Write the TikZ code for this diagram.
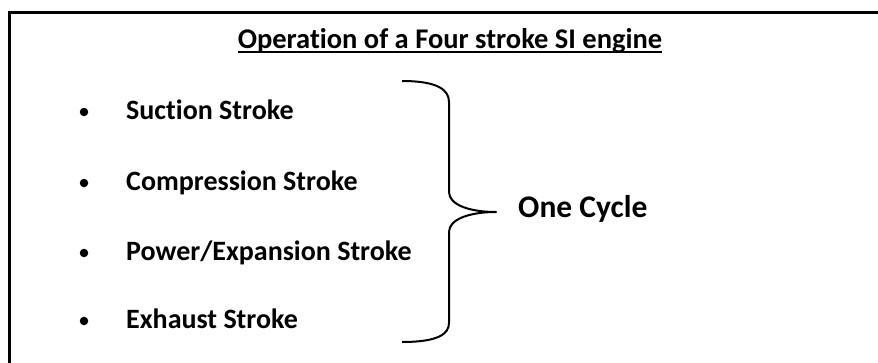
\documentclass[tikz,border=0pt]{standalone}
\usepackage{fontspec}
\setmainfont{Carlito}[Ligatures=NoCommon]
\usetikzlibrary{positioning}
\tikzset{
  heading/.style={
    font=\fontsize{28.5}{32}\selectfont\bfseries,
    anchor=base,
    inner sep=0pt,
  },
  stroke/.style={
    font=\fontsize{28}{32}\selectfont\bfseries,
    anchor=base west,
    inner sep=0pt,
  },
  cyc/.style={stroke, font=\fontsize{31.5}{36}\selectfont\bfseries},
  dot/.style={circle, fill, inner sep=0pt, minimum size=8.5pt},
  brace/.style={line width=2pt, line join=round},
  frame/.style={line width=3pt},
}

\begin{document}
\begin{tikzpicture}[x=1pt, y=-1pt]
  \useasboundingbox (0,0) rectangle (878,362);
  \draw[frame] (9,380) -- (9,12) -- (890,12);

  \node[heading] (title) at (450,48) {Operation of a Four stroke SI engine};
  \draw[line width=1.8pt] ([yshift=-4pt]title.base west) -- ([yshift=-4pt]title.base east);

  \node[stroke] (suc) at (126,119) {Suction Stroke};
  \node[stroke] (com) at (126,190) {Compression Stroke};
  \node[stroke] (pow) at (126,260) {Power/Expansion Stroke};
  \node[stroke] (exh) at (126,328) {Exhaust Stroke};

  \node[dot] (d1) at (84,112) {};
  \node[dot] (d2) at (84,183) {};
  \node[dot] (d3) at (84,253) {};
  \node[dot] (d4) at (84,321) {};

  % brace round the four strokes
  \coordinate (tip) at (496,212);
  \draw[brace] (402,81) .. controls (438,81) and (449,90) .. (449,102)
    -- (449,192) .. controls (449,205) and (470,212) .. (tip)
    .. controls (470,212) and (449,219) .. (449,232)
    -- (449,323) .. controls (449,334) and (438,342) .. (402,342);

  \node[cyc] (one) at (518,217) {One Cycle};
\end{tikzpicture}
\end{document}
